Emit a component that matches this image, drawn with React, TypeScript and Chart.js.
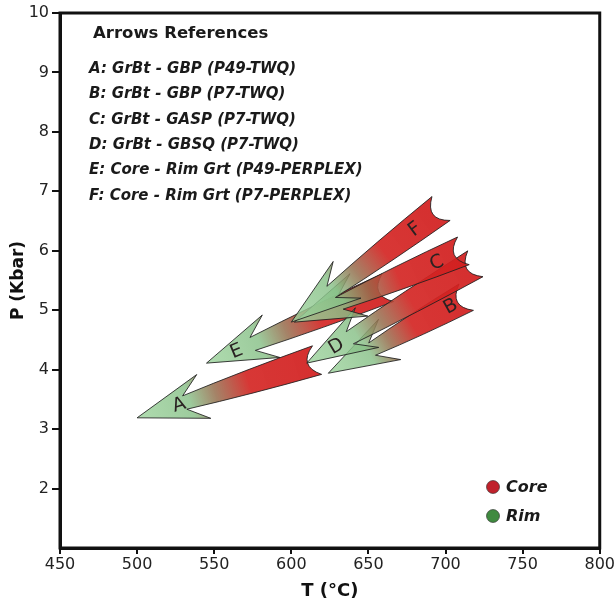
import React, { useEffect, useRef } from "react";
import { Chart, registerables } from "chart.js";

Chart.register(...registerables);

// ---- data ----
const arrowLabels = ["A", "B", "C", "D", "E", "F"];
// core (tail) temperature / pressure
const coreT = [613, 710, 708, 716, 659, 694];
const coreP = [4.13, 5.17, 5.96, 5.73, 5.34, 6.65];
// rim (arrow tip) temperature / pressure
const rimT = [500, 624, 602, 610, 545, 600];
const rimP = [3.19, 3.94, 4.8, 4.11, 4.11, 4.8];
// where the letter sits along the arrow (0 = tip, 1 = tail)
const labelAlong = [0.24, 0.92, 0.87, 0.18, 0.17, 0.85];
const references = [
  "A: GrBt - GBP (P49-TWQ)",
  "B: GrBt - GBP (P7-TWQ)",
  "C: GrBt - GASP (P7-TWQ)",
  "D: GrBt - GBSQ (P7-TWQ)",
  "E: Core - Rim Grt (P49-PERPLEX)",
  "F: Core - Rim Grt (P7-PERPLEX)",
];
const referencesTitle = "Arrows References";
const legendItems = ["Core", "Rim"];
const legendColors = ["#c0222c", "#3f8a3f"];
const xMin = 450, xMax = 800, xStep = 50;
const yMin = 1, yMax = 10, yStep = 1;
const drawOrder = [4, 0, 1, 3, 2, 5];

const FONT = "'DejaVu Sans', 'Liberation Sans', sans-serif";

function drawArrow(ctx: CanvasRenderingContext2D, tx: number, ty: number, cx: number, cy: number, letter: string, along: number) {
  const dx = cx - tx, dy = cy - ty;
  const L = Math.hypot(dx, dy);
  const ux = dx / L, uy = dy / L;
  const nx = -uy, ny = ux;
  const P = (a: number, b: number): [number, number] => [tx + ux * a + nx * b, ty + uy * a + ny * b];
  const hb = 70, hw = 23, hn = 50, w0 = 7, w1 = 15, ft = 6, nt = 7;

  const grad = ctx.createLinearGradient(cx, cy, tx, ty);
  grad.addColorStop(0, "rgba(210,32,32,0.93)");
  grad.addColorStop(0.36, "rgba(212,38,36,0.92)");
  grad.addColorStop(0.55, "rgba(150,110,78,0.86)");
  grad.addColorStop(0.7, "rgba(135,192,135,0.82)");
  grad.addColorStop(1, "rgba(158,212,158,0.82)");

  ctx.beginPath();
  let p = P(0, 0); ctx.moveTo(p[0], p[1]);
  p = P(hb, -hw); ctx.lineTo(p[0], p[1]);
  p = P(hn, -w0); ctx.lineTo(p[0], p[1]);
  const c1 = P((hn + L) / 2, -(w0 + w1) / 2 - 1.5);
  p = P(L + ft, -w1); ctx.quadraticCurveTo(c1[0], c1[1], p[0], p[1]);
  const c2 = P(L - 2 * nt, 0);
  p = P(L + ft, w1); ctx.quadraticCurveTo(c2[0], c2[1], p[0], p[1]);
  const c3 = P((hn + L) / 2, (w0 + w1) / 2 + 1.5);
  p = P(hn, w0); ctx.quadraticCurveTo(c3[0], c3[1], p[0], p[1]);
  p = P(hb, hw); ctx.lineTo(p[0], p[1]);
  ctx.closePath();
  ctx.fillStyle = grad;
  ctx.fill();
  ctx.strokeStyle = "rgba(30,30,30,0.85)";
  ctx.lineWidth = 1;
  ctx.stroke();

  // letter
  const lp = P(L * along, 0);
  ctx.save();
  ctx.translate(lp[0], lp[1]);
  ctx.rotate(Math.atan2(dy, dx));
  ctx.font = `19px ${FONT}`;
  ctx.textAlign = "center";
  ctx.textBaseline = "middle";
  ctx.fillStyle = "#2a2222";
  ctx.fillText(letter, 0, 1);
  ctx.restore();
}

const arrowsPlugin = {
  id: "pathArrows",
  afterDatasetsDraw(chart: any) {
    const ctx: CanvasRenderingContext2D = chart.ctx;
    ctx.save();
    drawOrder.forEach((i) => {
      const meta = chart.getDatasetMeta(i);
      const core = meta.data[0];
      const rim = meta.data[1];
      drawArrow(ctx, rim.x, rim.y, core.x, core.y, arrowLabels[i], labelAlong[i]);
    });
    ctx.restore();
  },
  afterDraw(chart: any) {
    const ctx: CanvasRenderingContext2D = chart.ctx;
    const a = chart.chartArea;
    ctx.save();
    // frame (top & right sides)
    ctx.strokeStyle = "#111";
    ctx.lineWidth = 3;
    ctx.strokeRect(a.left, a.top, a.right - a.left, a.bottom - a.top);

    // reference box text
    ctx.fillStyle = "#1a1a1a";
    ctx.textBaseline = "middle";
    ctx.textAlign = "left";
    ctx.font = `bold 16.5px ${FONT}`;
    ctx.fillText(referencesTitle, a.left + 33, a.top + 21);
    ctx.font = `italic bold 15px ${FONT}`;
    references.forEach((r, i) => {
      ctx.fillText(r, a.left + 29, a.top + 56 + i * 25.4);
    });

    // legend
    legendItems.forEach((t, i) => {
      const y = a.top + 474 + i * 29;
      const x = a.left + 433;
      ctx.beginPath();
      ctx.arc(x, y, 6.5, 0, Math.PI * 2);
      ctx.fillStyle = legendColors[i];
      ctx.fill();
      ctx.strokeStyle = "rgba(40,40,40,0.6)";
      ctx.lineWidth = 1;
      ctx.stroke();
      ctx.fillStyle = "#1a1a1a";
      ctx.font = `italic bold 16px ${FONT}`;
      ctx.fillText(t, x + 13, y + 1);
    });
    ctx.restore();
  },
};

export default function App() {
  const ref = useRef<HTMLCanvasElement | null>(null);
  useEffect(() => {
    if (!ref.current) return;
    const datasets = arrowLabels.map((l, i) => ({
      label: l,
      data: [
        { x: coreT[i], y: coreP[i] },
        { x: rimT[i], y: rimP[i] },
      ],
      pointRadius: 0,
      showLine: false,
    }));
    const chart = new Chart(ref.current, {
      type: "scatter",
      data: { datasets },
      options: {
        animation: false,
        responsive: false,
        devicePixelRatio: 1,
        layout: { padding: { top: 13, right: 16, left: 0, bottom: 0 } },
        plugins: { legend: { display: false }, tooltip: { enabled: false } },
        scales: {
          x: {
            type: "linear",
            min: xMin,
            max: xMax,
            afterFit: (s: any) => { s.height = 58; },
            ticks: { stepSize: xStep, color: "#222", font: { family: FONT, size: 16 }, padding: 1, maxRotation: 0 },
            grid: { drawOnChartArea: false, drawTicks: true, tickLength: 6, lineWidth: 2, color: "#111" },
            border: { display: true, width: 3, color: "#111" },
            title: { display: true, text: "T (°C)", color: "#111", font: { family: FONT, size: 18, weight: "bold" }, padding: { top: 0, bottom: 4 } },
          },
          y: {
            type: "linear",
            min: yMin,
            max: yMax,
            afterFit: (s: any) => { s.width = 60; },
            ticks: {
              stepSize: yStep,
              color: "#222",
              font: { family: FONT, size: 16 },
              padding: 3,
              callback: (v: any) => (v === yMin ? "" : String(v)),
            },
            grid: {
              drawOnChartArea: false,
              drawTicks: true,
              tickLength: 8,
              lineWidth: 2,
              color: (c: any) => (c.tick && c.tick.value === yMin ? "rgba(0,0,0,0)" : "#111"),
            },
            border: { display: true, width: 3, color: "#111" },
            title: { display: true, text: "P (Kbar)", color: "#111", font: { family: FONT, size: 17, weight: "bold" }, padding: { top: 8, bottom: 0 } },
          },
        },
      },
      plugins: [arrowsPlugin],
    } as any);
    return () => chart.destroy();
  }, []);
  return (
    <div style={{ position: "fixed", left: 0, top: 0, width: 616, height: 606, background: "#fff" }}>
      <canvas ref={ref} width={616} height={606} />
    </div>
  );
}
